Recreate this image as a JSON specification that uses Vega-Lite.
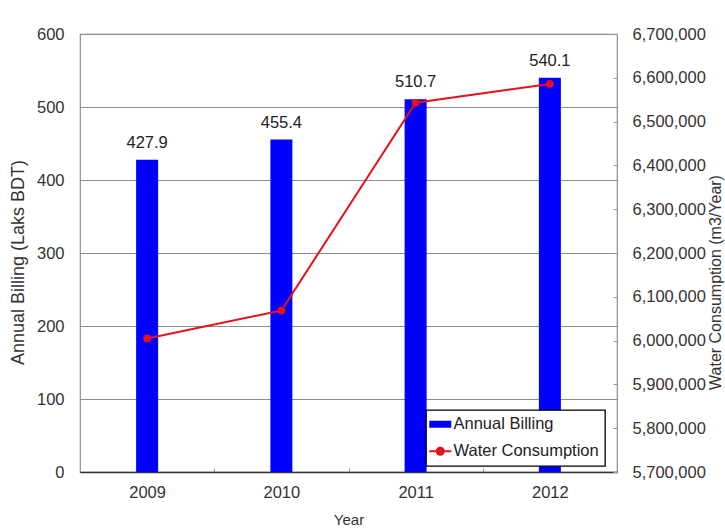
{
  "$schema": "https://vega.github.io/schema/vega-lite/v6.json",
  "width": 537,
  "height": 438,
  "autosize": {"type": "none"},
  "padding": {"left": 80, "top": 34, "right": 108, "bottom": 57},
  "background": "white",
  "config": {
    "font": "Liberation Sans",
    "view": {"stroke": "#8c8c8c", "strokeWidth": 1.2},
    "axis": {"labelFont": "Liberation Sans", "titleFont": "Liberation Sans", "labelColor": "#333333", "titleColor": "#333333", "titleFontWeight": "normal", "labelFontSize": 16.5, "titleFontSize": 15}
  },
  "data": {
    "values": [
      {"year": "2009", "billing": 427.9, "consumption": 6004800},
      {"year": "2010", "billing": 455.4, "consumption": 6068600},
      {"year": "2011", "billing": 510.7, "consumption": 6543000},
      {"year": "2012", "billing": 540.1, "consumption": 6586000}
    ]
  },
  "encoding": {
    "x": {
      "field": "year", "type": "ordinal",
      "scale": {"paddingInner": 0, "paddingOuter": 0},
      "axis": {"title": "Year", "labelAngle": 0, "domainColor": "#333333", "domainWidth": 1.5, "ticks": true, "tickBand": "extent", "tickSize": -4, "tickColor": "#999999", "labelPadding": 16, "titlePadding": 12, "titleFontSize": 15}
    }
  },
  "layer": [
    {
      "layer": [
        {
          "mark": {"type": "bar", "size": 22, "color": "#0000ff"},
          "encoding": {
            "y": {"field": "billing", "type": "quantitative", "scale": {"domain": [0, 600]},
              "axis": {"title": "Annual Billing (Laks BDT)", "values": [0, 100, 200, 300, 400, 500, 600], "grid": true, "gridColor": "#8c8c8c", "gridWidth": 1.2, "domain": false, "ticks": false, "labelPadding": 16,
                "titleFontSize": 18, "titleAngle": -90, "titleX": -62, "titleY": 228, "titleAlign": "center", "titleBaseline": "middle"}},
            "color": {"datum": "Annual Billing", "type": "nominal",
              "scale": {"domain": ["Annual Billing", "Water Consumption"], "range": ["#0000ff", "#e8101a"]},
              "legend": {
                "title": null, "orient": "none", "legendX": 346, "legendY": 376,
                "fillColor": "white", "strokeColor": "#000000", "padding": 6,
                "labelFont": "Liberation Sans", "labelFontSize": 16.5, "labelColor": "#222222", "labelOffset": 5,
                "symbolSize": 484, "rowPadding": 10, "symbolStrokeWidth": 2,
                "encode": {
                  "legend": {"update": {"strokeWidth": {"value": 1.3}}},
                  "symbols": {"update": {
                  "shape": {"signal": "datum.value === 'Annual Billing' ? 'M-1,-0.32H1V0.32H-1Z' : 'M-1,0H1M0.32,0A0.32,0.32 0 1 1 -0.32,0A0.32,0.32 0 1 1 0.32,0'"},
                  "fill": {"signal": "datum.value === 'Annual Billing' ? '#0000ff' : '#e8101a'"},
                  "stroke": {"signal": "datum.value === 'Annual Billing' ? '#0000ff' : '#e8101a'"},
                  "strokeWidth": {"signal": "datum.value === 'Annual Billing' ? 0 : 2"},
                  "opacity": {"value": 1}
                }}}
              }}
          }
        },
        {
          "mark": {"type": "text", "dy": -9, "baseline": "bottom", "fontSize": 16.5, "color": "#222222", "font": "Liberation Sans"},
          "encoding": {
            "y": {"field": "billing", "type": "quantitative"},
            "text": {"field": "billing", "type": "quantitative", "format": ".1f"}
          }
        }
      ]
    },
    {
      "mark": {"type": "line", "color": "#e8101a", "strokeWidth": 2, "point": {"filled": true, "size": 60, "color": "#e8101a"}},
      "encoding": {
        "y": {"field": "consumption", "type": "quantitative", "scale": {"domain": [5700000, 6700000], "zero": false},
          "axis": {"title": "Water Consumption (m3/Year)", "orient": "right", "format": ",d", "values": [5700000, 5800000, 5900000, 6000000, 6100000, 6200000, 6300000, 6400000, 6500000, 6600000, 6700000], "grid": false, "domain": false, "ticks": true, "tickSize": -4, "tickColor": "#999999", "labelPadding": 19,
            "titleFontSize": 16, "titleAngle": -90, "titleX": 98, "titleY": 248, "titleAlign": "center", "titleBaseline": "middle"}},
        "color": {"datum": "Water Consumption", "type": "nominal"}
      }
    }
  ],
  "resolve": {"scale": {"y": "independent"}}
}
